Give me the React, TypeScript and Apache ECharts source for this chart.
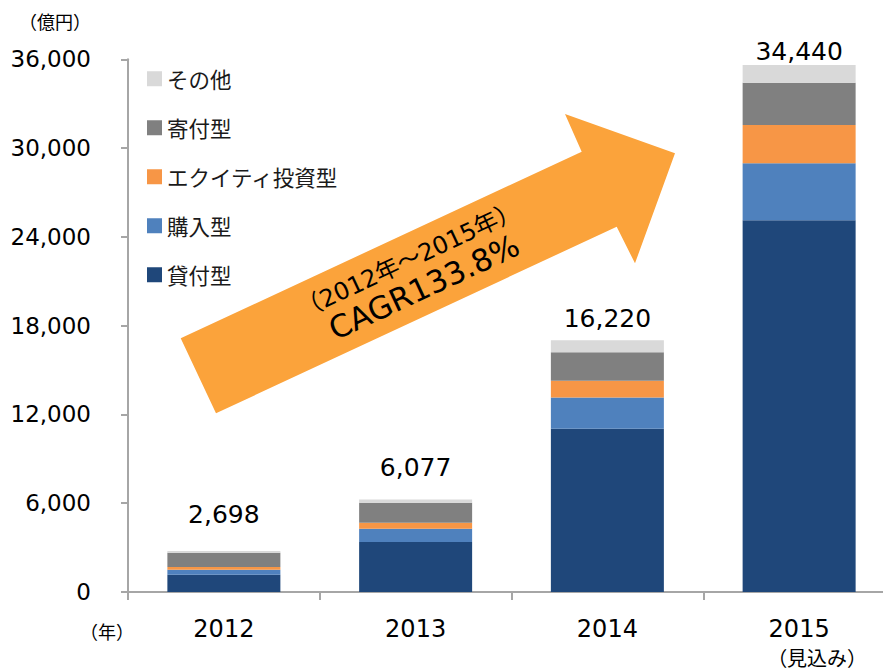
import React, { useEffect, useRef } from "react";
import * as echarts from "echarts";

const categories = ["2012", "2013", "2014", "2015"];
const loanType = [1170, 3380, 11040, 25120];
const purchaseType = [340, 900, 2100, 3850];
const equityType = [180, 400, 1130, 2590];
const donationType = [970, 1350, 1940, 2860];
const otherType = [110, 220, 810, 1200];
const totals = [2698, 6077, 16220, 34440];
const yTicks = [0, 6000, 12000, 18000, 24000, 30000, 36000];

const LATIN = "'DejaVu Sans', 'Noto Sans CJK JP', sans-serif";
const CJK = "'Noto Sans CJK JP', 'DejaVu Sans', sans-serif";

const totalOffsets = [-23, -18, -8, 1];

export default function App() {
  const ref = useRef<HTMLDivElement>(null);
  useEffect(() => {
    if (!ref.current) return;
    const chart = echarts.init(ref.current, undefined, { renderer: "svg" });
    const fmt = (v: number) => v.toLocaleString("en-US");
    const mk = (name: string, data: number[], color: string) => ({
      name,
      type: "bar",
      stack: "total",
      data,
      barWidth: 113,
      itemStyle: { color },
      emphasis: { disabled: true },
    });
    const option: any = {
      animation: false,
      backgroundColor: "#ffffff",
      grid: {
        left: 128,
        top: 59.3,
        width: 767,
        height: 532.7,
        containLabel: false,
        outerBoundsMode: "none",
      },
      legend: {
        orient: "vertical",
        left: 147,
        top: 68,
        padding: 0,
        itemWidth: 15,
        itemHeight: 15,
        itemGap: 27.5,
        icon: "rect",
        selectedMode: false,
        data: ["その他", "寄付型", "エクイティ投資型", "購入型", "貸付型"],
        textStyle: { fontFamily: CJK, fontSize: 21.5, color: "#1a1a1a" },
      },
      xAxis: {
        type: "category",
        data: categories,
        axisLine: { lineStyle: { color: "#A6A6A6", width: 2 } },
        axisTick: { show: true, length: 8, lineStyle: { color: "#A6A6A6", width: 2 } },
        axisLabel: {
          margin: 24,
          formatter: (v: string) =>
            v === "2015" ? "{a|" + v + "}\n{b|（見込み）}" : "{a|" + v + "}",
          rich: {
            a: { fontFamily: LATIN, fontSize: 24, lineHeight: 26, color: "#000" },
            b: {
              fontFamily: CJK,
              fontSize: 20,
              lineHeight: 30,
              color: "#000",
              padding: [0, 0, 0, 36],
            },
          },
        },
      },
      yAxis: {
        type: "value",
        min: yTicks[0],
        max: yTicks[yTicks.length - 1],
        interval: 6000,
        splitLine: { show: false },
        axisLine: { show: true, lineStyle: { color: "#A6A6A6", width: 2 } },
        axisTick: { show: true, length: 7, lineStyle: { color: "#A6A6A6", width: 2 } },
        axisLabel: {
          margin: 37,
          fontFamily: LATIN,
          fontSize: 23,
          color: "#000",
          formatter: (v: number) => fmt(v),
        },
      },
      series: [
        mk("貸付型", loanType, "#1F477A"),
        mk("購入型", purchaseType, "#4F81BD"),
        mk("エクイティ投資型", equityType, "#F79646"),
        mk("寄付型", donationType, "#808080"),
        {
          ...mk("その他", otherType, "#D9D9D9"),
          label: {
            show: true,
            position: "top",
            distance: 0,
            fontFamily: LATIN,
            fontSize: 25,
            lineHeight: 28,
            color: "#000",
            formatter: (p: any) => fmt(totals[p.dataIndex]),
          },
          data: otherType.map((v, i) => ({
            value: v,
            label: { offset: [0, totalOffsets[i]] },
          })),
        },
      ],
      graphic: [
        {
          type: "polygon",
          z: 10,
          shape: {
            points: [
              [180.7, 338.3],
              [581.7, 151.7],
              [565, 114],
              [675, 153.3],
              [635, 263.3],
              [616.7, 226.7],
              [216, 413.3],
            ],
          },
          style: { fill: "#FBA33B" },
        },
        {
          type: "text",
          z: 11,
          x: 409,
          y: 260,
          rotation: (25 * Math.PI) / 180,
          style: {
            text: "（2012年～2015年）",
            fontFamily: LATIN,
            fontSize: 24,
            fill: "#000",
            align: "center",
            verticalAlign: "middle",
          },
        },
        {
          type: "text",
          z: 11,
          x: 424,
          y: 287,
          rotation: (25 * Math.PI) / 180,
          style: {
            text: "CAGR133.8%",
            fontFamily: LATIN,
            fontSize: 31,
            fill: "#000",
            align: "center",
            verticalAlign: "middle",
          },
        },
        {
          type: "text",
          x: 55,
          y: 21,
          style: {
            text: "（億円）",
            fontFamily: CJK,
            fontSize: 18,
            fill: "#000",
            align: "center",
            verticalAlign: "middle",
          },
        },
        {
          type: "text",
          x: 107,
          y: 631,
          style: {
            text: "（年）",
            fontFamily: CJK,
            fontSize: 18,
            fill: "#000",
            align: "center",
            verticalAlign: "middle",
          },
        },
      ],
    };
    chart.setOption(option);
    return () => chart.dispose();
  }, []);
  return (
    <div
      ref={ref}
      style={{ position: "absolute", left: 0, top: 0, width: 883, height: 670 }}
    />
  );
}
